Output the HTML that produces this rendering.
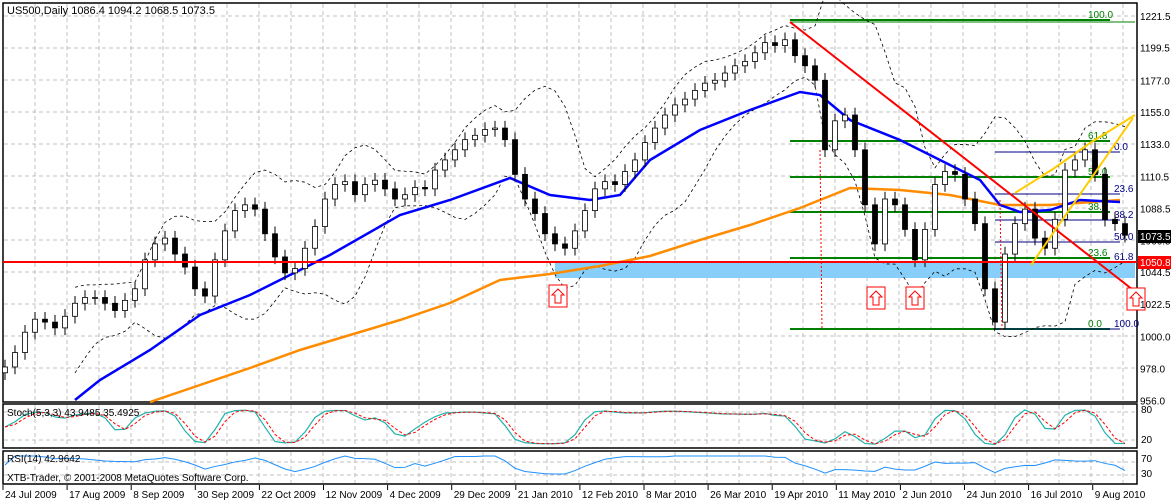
<!DOCTYPE html>
<html><head><meta charset="utf-8"><style>
html,body{margin:0;padding:0;background:#fff;}
svg{display:block;font-family:"Liberation Sans",sans-serif;}
</style></head><body>
<svg id="c" width="1171" height="502" viewBox="0 0 1171 502" xmlns="http://www.w3.org/2000/svg"></svg>
<script>
const closes=[979,989,1003,1012,1010,1006,1014,1023,1027,1027,1023,1018,1025,1033,1053,1064,1068,1057,1048,1033,1028,1053,1073,1087,1091,1088,1071,1055,1044,1047,1061,1076,1095,1105,1107,1098,1105,1108,1102,1095,1098,1103,1102,1115,1122,1129,1136,1139,1143,1144,1136,1112,1095,1085,1071,1064,1061,1073,1087,1102,1107,1105,1114,1122,1134,1144,1153,1160,1164,1170,1175,1177,1182,1187,1190,1196,1203,1201,1205,1194,1187,1177,1129,1149,1153,1129,1091,1064,1095,1091,1074,1053,1074,1105,1114,1112,1095,1078,1033,1010,1057,1078,1088,1068,1061,1081,1115,1122,1129,1112,1081,1078,1070];
const blueX=[75,100,150,200,250,300,330,400,450,510,550,590,620,650,700,750,800,820,850,900,950,980,1000,1020,1050,1080,1120];
const blueY=[400,380,350,315,295,270,255,215,200,178,195,200,195,160,130,110,92,95,120,140,165,180,205,212,210,200,202];
const orangeX=[150,200,250,300,350,400,450,500,550,600,650,700,750,800,850,900,950,1000,1050,1120];
const orangeY=[402,385,368,350,335,320,303,280,274,266,256,240,225,208,188,190,195,205,205,200];
const priceTicks=[1221.5,1199.5,1177.0,1155.0,1133.0,1110.5,1088.5,1066.5,1044.5,1022.5,1000.0,978.0,956.0];
const dateLabels=["24 Jul 2009","17 Aug 2009","8 Sep 2009","30 Sep 2009","22 Oct 2009","12 Nov 2009","4 Dec 2009","29 Dec 2009","21 Jan 2010","12 Feb 2010","8 Mar 2010","26 Mar 2010","19 Apr 2010","11 May 2010","2 Jun 2010","24 Jun 2010","16 Jul 2010","9 Aug 2010"];

const S=document.getElementById('c');const NS="http://www.w3.org/2000/svg";
function el(t,a,p){const e=document.createElementNS(NS,t);for(const k in a)e.setAttribute(k,a[k]);(p||S).appendChild(e);return e;}
const yP=p=>144+(1133-p)*1.448;
const xI=i=>5+i*10;
const frame=el('g',{});


el('rect',{x:3,y:3,width:1134,height:399,fill:'none',stroke:'#000','stroke-width':1.5},frame);
el('rect',{x:3,y:404,width:1134,height:44,fill:'none',stroke:'#000','stroke-width':1.5},frame);
el('rect',{x:3,y:451,width:1134,height:33,fill:'none',stroke:'#000','stroke-width':1.5},frame);
const grid=el('g',{stroke:'#c0c0c0','stroke-dasharray':'4,3','stroke-width':1});


for(let x=35;x<1137;x+=32){el('line',{x1:x,y1:4,x2:x,y2:401},grid);el('line',{x1:x,y1:405,x2:x,y2:447},grid);el('line',{x1:x,y1:452,x2:x,y2:483},grid);}
for(let y=16;y<400;y+=32)el('line',{x1:4,y1:y,x2:1136,y2:y},grid);
[412,440,462,475].forEach(y=>el('line',{x1:4,y1:y,x2:1136,y2:y},grid));
const z=el('rect',{x:555,y:262,width:580,height:16,fill:'#87cefa'});


const fg=el('g',{});


[[20,'100.0'],[141,'61.8'],[177,'50.0'],[212,'38.2'],[258,'23.6'],[329,'0.0']].forEach(([y,t])=>{el('line',{x1:790,y1:y,x2:1110,y2:y,stroke:'#008000','stroke-width':2},fg);const tx=el('text',{x:1088,y:y-2,'font-size':10,fill:'#008000'},fg);tx.textContent=t;});
el('line',{x1:790,y1:22,x2:1135,y2:22,stroke:'#008000','stroke-width':1},fg);
[[152,'0.0'],[194,'23.6'],[220,'38.2'],[242,'50.0'],[262,'61.8'],[329,'100.0']].forEach(([y,t])=>{el('line',{x1:995,y1:y,x2:1120,y2:y,stroke:'#000080','stroke-width':1},fg);const tx=el('text',{x:1114,y:y-2,'font-size':10,fill:'#000080'},fg);tx.textContent=t;});
const bw=8,bu=[],bl=[];
for(let i=bw-1;i<closes.length;i++){const w=closes.slice(i-bw+1,i+1);const m=w.reduce((a,b)=>a+b)/bw;const sd=Math.sqrt(w.reduce((a,b)=>a+(b-m)*(b-m),0)/bw);bu.push([xI(i),yP(m+2*sd+3)]);bl.push([xI(i),yP(m-2*sd-3)]);}
[bu,bl].forEach((a,k)=>{const p=el('polyline',{points:a.map(q=>q.join(',')).join(' '),fill:'none',stroke:'#000','stroke-dasharray':'3,3','stroke-width':0.8});});
const ob=el('polyline',{points:orangeX.map((x,i)=>x+','+orangeY[i]).join(' '),fill:'none',stroke:'#ff8c00','stroke-width':2.5});


const bb=el('polyline',{points:blueX.map((x,i)=>x+','+blueY[i]).join(' '),fill:'none',stroke:'#0000ff','stroke-width':2.5});


const cg=el('g',{});


closes.forEach((c,i)=>{const o=i?closes[i-1]:c-4;const x=xI(i);const hi=Math.max(o,c)+5,lo=Math.min(o,c)-5;
el('line',{x1:x,y1:yP(hi),x2:x,y2:yP(lo),stroke:'#000'},cg);
el('rect',{x:x-2.5,y:yP(Math.max(o,c)),width:5,height:Math.max(1,Math.abs(yP(o)-yP(c))),fill:c>=o?'#fff':'#000',stroke:'#000','stroke-width':0.8},cg);});
const hr=el('line',{x1:3,y1:262,x2:1137,y2:262,stroke:'#ff0000','stroke-width':2});


const tr=el('line',{x1:790,y1:22,x2:1137,y2:293,stroke:'#ff0000','stroke-width':2});


[[820,150,330],[1000,200,330]].forEach(a=>el('line',{x1:a[0],y1:a[1],x2:a[0]+2,y2:a[2],stroke:'#ff0000','stroke-dasharray':'2,2'}));
const yg=el('g',{stroke:'#ffcc00','stroke-width':2,fill:'none'});


el('line',{x1:1031,y1:265,x2:1133,y2:118},yg);el('polyline',{points:'1015,193 1053,169 1090,143 1135,115'},yg);
[[549,285],[867,287],[906,287],[1127,288]].forEach(([x,y],k)=>{const g=el('g',{});el('rect',{x:x,y:y,width:18,height:22,fill:'#fff',stroke:'#ff0000'},g);el('path',{d:`M${x+9} ${y+4} L${x+15} ${y+10} L${x+12} ${y+10} L${x+12} ${y+18} L${x+6} ${y+18} L${x+6} ${y+10} L${x+3} ${y+10}Z`,fill:'none',stroke:'#ff0000'},g);});
const tt=el('text',{x:7,y:14,'font-size':11,fill:'#000'});tt.textContent='US500,Daily  1086.4 1094.2 1068.5 1073.5';


const ax=el('g',{'font-size':10,fill:'#000'});


priceTicks.forEach(p=>{const t=el('text',{x:1140,y:yP(p)+4},ax);t.textContent=p.toFixed(1);});
const b1=el('rect',{x:1138,y:230,width:33,height:13,fill:'#000'});
const t1=el('text',{x:1140,y:240,'font-size':10,fill:'#fff'});t1.textContent='1073.5';
const b2=el('rect',{x:1138,y:256,width:33,height:13,fill:'#ff0000'});
const t2=el('text',{x:1140,y:266,'font-size':10,fill:'#fff'});t2.textContent='1050.8';
const K=[],D=[];
closes.forEach((c,i)=>{const w=closes.slice(Math.max(0,i-4),i+1);const hi=Math.max(...w)+4,lo=Math.min(...w)-4;K.push(100*(c-lo)/(hi-lo));});
const Ks=K.map((v,i)=>i?(v+K[i-1])/2:v);Ks.forEach((v,i)=>D.push(i?(v+Ks[i-1])/2:v));
const yS=v=>446-v*0.38;
const sk=el('polyline',{points:Ks.map((v,i)=>xI(i)+','+yS(v)).join(' '),fill:'none',stroke:'#20b2aa','stroke-width':1.2});
const sd=el('polyline',{points:D.map((v,i)=>xI(i)+','+yS(v)).join(' '),fill:'none',stroke:'#ff0000','stroke-dasharray':'3,2'});
const st=el('text',{x:7,y:416,'font-size':10});st.textContent='Stoch(5,3,3) 43.9485 35.4925';
[['80',413],['20',443]].forEach(([t,y])=>{const e=el('text',{x:1141,y:y,'font-size':10});e.textContent=t;});
const R=[];closes.forEach((c,i)=>{let g=0,l=0;for(let j=Math.max(1,i-5);j<=i;j++){const d=closes[j]-closes[j-1];if(d>0)g+=d;else l-=d;}R.push(g+l?100*g/(g+l):50);});
const yR=v=>474-v*0.18;
const rl=el('polyline',{points:R.map((v,i)=>xI(i)+','+yR(v)).join(' '),fill:'none',stroke:'#1e90ff','stroke-width':1});
const rt=el('text',{x:7,y:462,'font-size':10});rt.textContent='RSI(14) 42.9642';
const cp=el('text',{x:7,y:481,'font-size':10});cp.textContent='XTB-Trader, © 2001-2008 MetaQuotes Software Corp.';
[['70',462],['30',477]].forEach(([t,y])=>{const e=el('text',{x:1141,y:y,'font-size':10});e.textContent=t;});
const dg=el('g',{'font-size':10});
dateLabels.forEach((d,i)=>{const x=3+i*64.1;el('line',{x1:x,y1:485,x2:x,y2:490,stroke:'#000'},dg);const t=el('text',{x:x+2,y:498},dg);t.textContent=d;});
</script>
</body></html>
